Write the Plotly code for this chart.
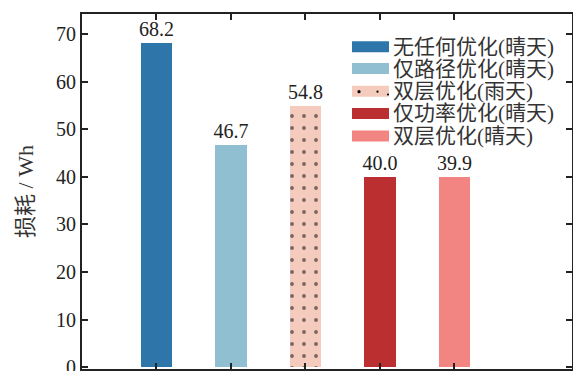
import plotly.graph_objects as go

# Energy loss per optimisation scheme
categories = ["无任何优化(晴天)", "仅路径优化(晴天)", "双层优化(雨天)", "仅功率优化(晴天)", "双层优化(晴天)"]
losses = [68.2, 46.7, 54.8, 40.0, 39.9]
positions = [1, 2, 3, 4, 5]
colors = ["#2E76AA", "#8FBFD0", "#F4CBBD", "#BC2F31", "#F28582"]
y_ticks = [0, 10, 20, 30, 40, 50, 60, 70]

FONT = "'Liberation Serif', 'DejaVu Serif', 'Noto Sans CJK SC', serif"
INK = "#222222"

fig = go.Figure()
for i, (name, val, pos, col) in enumerate(zip(categories, losses, positions, colors)):
    pattern = dict(shape=".", fgcolor="#000000", bgcolor=col, size=12, solidity=0.08) if i == 2 else None
    fig.add_trace(go.Bar(
        x=[pos], y=[val], name=name, width=0.42,
        marker=dict(color=col, line=dict(width=0), pattern=pattern),
        text=[f"{val:.1f}"], textposition="outside", constraintext="none",
        textfont=dict(family=FONT, size=20, color=INK),
        outsidetextfont=dict(family=FONT, size=20, color=INK),
        cliponaxis=False, showlegend=False,
    ))

# Legend drawn as swatches + labels in paper coordinates
L, R, T, B = 82, 572, 14, 369
W, H = R - L, B - T
def px(x):
    return (x - L) / W
def py(y):
    return (B - y) / H

row_y = [46.7, 68.5, 91.3, 113.5, 136.0]
shapes = []
annotations = []
for name, col, yc in zip(categories, colors, row_y):
    shapes.append(dict(type="rect", xref="paper", yref="paper",
                       x0=px(352), x1=px(389), y0=py(yc + 5.5), y1=py(yc - 5.5),
                       fillcolor=col, line=dict(width=0), layer="above"))
    annotations.append(dict(xref="paper", yref="paper", x=px(391), y=py(yc),
                            xanchor="left", yanchor="middle", text=name, showarrow=False,
                            font=dict(family=FONT, size=21, color="#333333")))
# dots on the rainy-day swatch
for dx, dy, r in [(359, 91.7, 1.6), (377.5, 91.7, 1.1), (388, 94.5, 1.1)]:
    shapes.append(dict(type="circle", xref="paper", yref="paper",
                       x0=px(dx - r), x1=px(dx + r), y0=py(dy + r), y1=py(dy - r),
                       fillcolor="#000000", line=dict(width=0), layer="above"))

fig.update_layout(
    width=573, height=371,
    margin=dict(l=L, r=573 - R, t=T, b=371 - B, autoexpand=False),
    paper_bgcolor="white", plot_bgcolor="white",
    font=dict(family=FONT, size=20, color=INK),
    shapes=shapes, annotations=annotations,
    bargap=0,
)
fig.update_xaxes(
    range=[0, 6.58], tickvals=positions, showticklabels=False,
    ticks="inside", ticklen=6, tickwidth=2, tickcolor=INK,
    showline=True, linewidth=2, linecolor=INK, mirror="ticks",
    showgrid=False, zeroline=False, automargin=False,
)
fig.update_yaxes(
    range=[-0.4, 74.2], tickvals=y_ticks, ticks="inside", ticklen=6, tickwidth=2, tickcolor=INK,
    showline=True, linewidth=2, linecolor=INK, mirror="ticks",
    showgrid=False, zeroline=False, ticklabeloverflow="allow", automargin=False,
    tickfont=dict(family=FONT, size=20, color=INK),
    title=dict(text="损耗 / Wh", font=dict(family=FONT, size=22, color="#333333"), standoff=16),
)

fig.write_html("out.html")
